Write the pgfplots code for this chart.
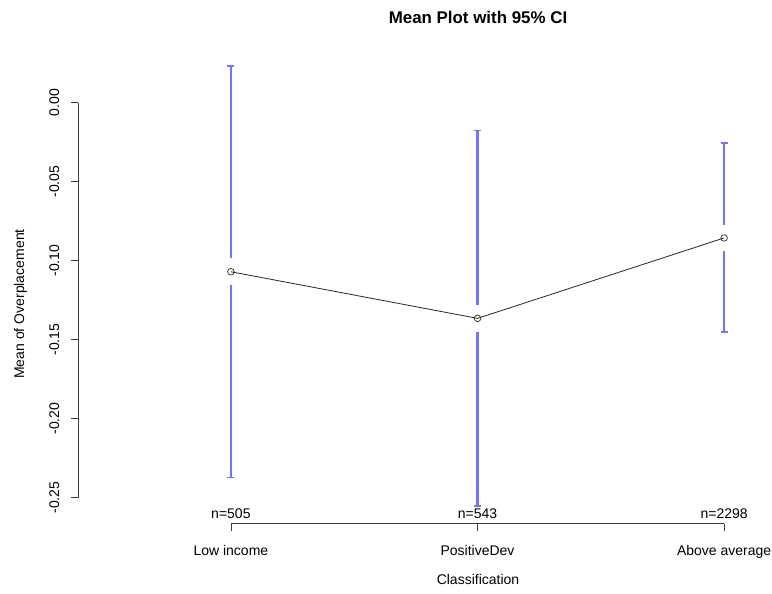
\documentclass[border=0pt]{standalone}
\usepackage{pgfplots}
\pgfplotsset{compat=1.18}
\usepackage{fontspec}
\setmainfont{Liberation Sans}
\definecolor{barblue}{RGB}{115,115,255}
\definecolor{axisgray}{RGB}{60,60,60}
\newcommand{\lblfont}{\fontsize{14}{16}\selectfont}
\begin{document}
\begin{tikzpicture}[x=1pt,y=1pt]
\useasboundingbox (0,0) rectangle (772,594);
\begin{axis}[
  at={(78pt,70.4pt)}, anchor=south west,
  scale only axis,
  width=693pt, height=475.1pt,
  xmin=0.38, xmax=3.19,
  ymin=-0.2664, ymax=0.0343,
  axis line style={draw=none},
  clip=false,
  xtick={1,2,3},
  xticklabels={Low income,PositiveDev,Above average},
  ytick={-0.25,-0.20,-0.15,-0.10,-0.05,0.00},
  yticklabels={-0.25,-0.20,-0.15,-0.10,-0.05,0.00},
  tick align=outside,
  major tick length=7pt,
  tick style={axisgray, line width=0.8pt},
  xtick pos=bottom, ytick pos=left,
  every tick label/.append style={font=\lblfont, inner sep=0pt, outer sep=0pt},
  xticklabel style={anchor=base, yshift=-25pt},
  yticklabel style={anchor=base, xshift=-12pt, rotate=90},
]
% axis lines spanning the ticks only
\draw[axisgray, line width=0.8pt] (axis cs:0.38,-0.25) -- (axis cs:0.38,0);
\draw[axisgray, line width=0.8pt] (axis cs:1,-0.2664) -- (axis cs:3,-0.2664);
% confidence intervals (upper and lower parts, gap around the mean)
\addplot[barblue, line width=2.2pt, mark=-, mark size=3.5pt, mark options={line width=1.5pt}, mark indices={2}] coordinates {(1,-0.0985) (1,0.0232)};
\addplot[barblue, line width=2.2pt, mark=-, mark size=3.5pt, mark options={line width=1.5pt}, mark indices={2}] coordinates {(1,-0.1155) (1,-0.2373)};
\addplot[barblue, line width=2.2pt, mark=-, mark size=3.5pt, mark options={line width=1.5pt}, mark indices={2}] coordinates {(2,-0.1280) (2,-0.0177)};
\addplot[barblue, line width=2.2pt, mark=-, mark size=3.5pt, mark options={line width=1.5pt}, mark indices={2}] coordinates {(2,-0.1450) (2,-0.2553)};
\addplot[barblue, line width=2.2pt, mark=-, mark size=3.5pt, mark options={line width=1.5pt}, mark indices={2}] coordinates {(3,-0.0771) (3,-0.0256)};
\addplot[barblue, line width=2.2pt, mark=-, mark size=3.5pt, mark options={line width=1.5pt}, mark indices={2}] coordinates {(3,-0.0941) (3,-0.1452)};
% means
\addplot[black!85, line width=0.8pt, mark=o, mark size=3.3pt, mark options={fill=white, line width=0.7pt}] coordinates {(1,-0.1070) (2,-0.1365) (3,-0.0856)};
% counts
\node[anchor=base, font=\lblfont] at (axis cs:1,-0.2664) [yshift=5pt] {n=505};
\node[anchor=base, font=\lblfont] at (axis cs:2,-0.2664) [yshift=5pt] {n=543};
\node[anchor=base, font=\lblfont] at (axis cs:3,-0.2664) [yshift=5pt] {n=2298};
\end{axis}
\node[anchor=base, font=\fontsize{16.9}{19}\selectfont\bfseries] at (478,570) {Mean Plot with 95\% CI};
\node[anchor=base, font=\lblfont] at (478,9) {Classification};
\node[anchor=base, rotate=90, font=\lblfont] at (24,290) {Mean of Overplacement};
\end{tikzpicture}
\end{document}
